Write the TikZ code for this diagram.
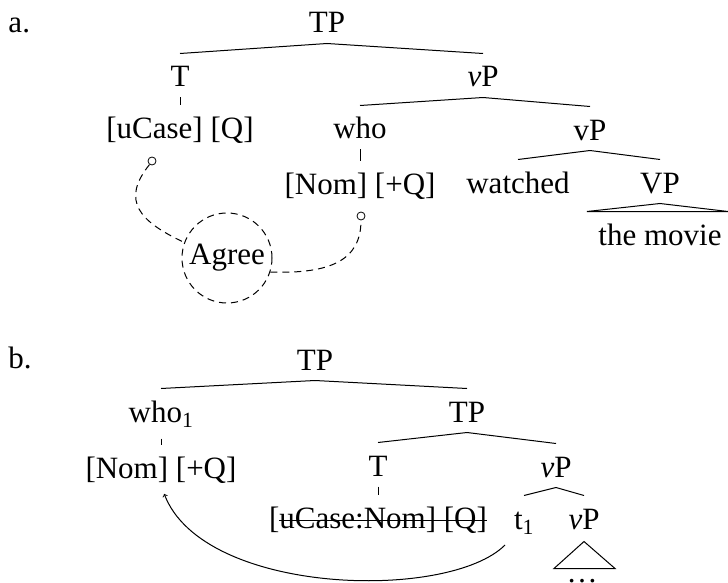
\documentclass[tikz,border=0pt]{standalone}
\usepackage{fontspec}
\setmainfont{Liberation Serif}
\newcommand{\treeedge}[2]{\draw ([yshift=-3pt]#1.south) -- ([yshift=11pt]#2.north);}
\begin{document}
\begin{tikzpicture}[x=1pt,y=-1pt,line width=1pt,
  lab/.style={anchor=base, inner sep=0pt, text height=22pt, text depth=7pt,
    font=\fontsize{31}{37}\selectfont},
  agreering/.style={circle, draw, dash pattern=on 7pt off 5pt, minimum size=90pt, inner sep=0pt,
    font=\fontsize{31}{37}\selectfont},
  dot/.style={circle, draw, minimum size=8pt, inner sep=0pt, line width=0.8pt},
  dashline/.style={dash pattern=on 7pt off 5pt}]
\useasboundingbox (0,0) rectangle (728,583);

% ---------- a ----------
\node[lab, anchor=base west] (la) at (8,33) {a.};
\node[lab] (TPa) at (327,33) {TP};
\node[lab] (Ta) at (180,87) {T};
\node[lab] (vPa) at (483,87) {\textit{v}P};
\node[lab] (ucase) at (180,139) {[uCase] [Q]};
\node[lab] (whoa) at (360,139) {who};
\node[lab] (vPa2) at (590,140) {vP};
\node[lab] (noma) at (360,194) {[Nom] [+Q]};
\node[lab] (watched) at (518,193) {watched};
\node[lab] (VPa) at (660,193) {VP};
\node[lab] (movie) at (660,245) {the movie};

\treeedge{TPa}{Ta}
\treeedge{TPa}{vPa}
\treeedge{vPa}{whoa}
\treeedge{vPa}{vPa2}
\treeedge{vPa2}{watched}
\treeedge{vPa2}{VPa}
\treeedge{Ta}{ucase}
\treeedge{whoa}{noma}
\draw ([yshift=-3pt]VPa.south) -- ([xshift=-11pt,yshift=11pt]movie.north west)
  -- ([xshift=6pt,yshift=11pt]movie.north east) -- cycle;

\node[dot] (oa) at (152,161) {};
\node[dot] (ob) at (361,216) {};
\node[agreering] (agree) at (227,258) {Agree};
\draw[dashline] (oa.235) .. controls +(-29,36) and +(-45,-21) .. (agree.160);
\draw[dashline] (agree.-18) .. controls +(60,2) and +(0,40) .. (ob.south);

% ---------- b ----------
\node[lab, anchor=base west] (lb) at (8,368) {b.};
\node[lab] (TPb) at (315,370) {TP};
\node[lab] (whob) at (161,422) {who\textsubscript{1}};
\node[lab] (TPb2) at (467,422) {TP};
\node[lab] (nomb) at (161,478) {[Nom] [+Q]};
\node[lab] (Tb) at (378,476) {T};
\node[lab] (vPb) at (556,477) {\textit{v}P};
\node[lab] (strike) at (378,528) {[uCase:Nom] [Q]};
\draw ([xshift=10.3pt,yshift=7.5pt]strike.base west) -- ([yshift=7.5pt]strike.base east);
\node[lab] (t1) at (524,529) {t\textsubscript{1}};
\node[lab] (vPb2) at (584,529) {\textit{v}P};
\node[lab, text depth=0pt] (dots) at (582,582) {\ldots};

\treeedge{TPb}{whob}
\treeedge{TPb}{TPb2}
\treeedge{TPb2}{Tb}
\treeedge{TPb2}{vPb}
\treeedge{vPb}{t1}
\treeedge{vPb}{vPb2}
\draw ([yshift=-9pt]whob.south) -- ([yshift=11pt]nomb.north);
\treeedge{Tb}{strike}
\draw ([yshift=-5pt]vPb2.south) -- ([xshift=-30pt,yshift=-32pt]vPb2.south)
  -- ([xshift=31pt,yshift=-32pt]vPb2.south) -- cycle;

\draw[->, shorten <=12pt, shorten >=9pt] (t1.south west) .. controls +(-65,65) and +(42,110) .. (nomb.south);
\end{tikzpicture}
\end{document}
